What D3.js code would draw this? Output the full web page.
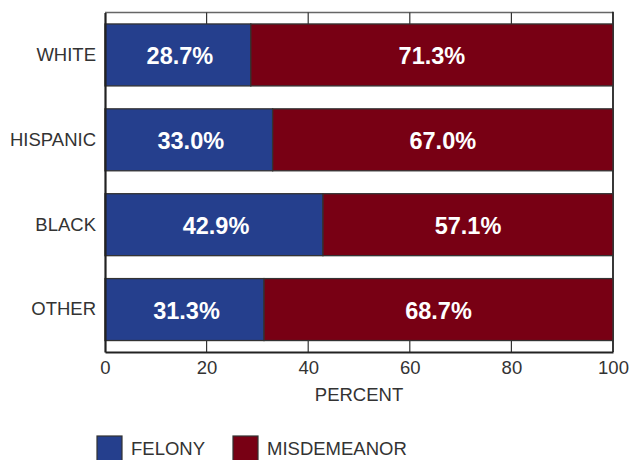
<!DOCTYPE html>
<html><head><meta charset="utf-8">
<script src="https://cdn.jsdelivr.net/npm/d3@7"></script>
<style>body{margin:0;background:#fff;}svg{display:block;font-family:Arial,"Liberation Sans",sans-serif;}</style>
</head><body>
<svg id="c" width="631" height="460"></svg>
<script>
const categories = ["WHITE","HISPANIC","BLACK","OTHER"];
const felony = [28.7, 33.0, 42.9, 31.3];
const misdemeanor = [71.3, 67.0, 57.1, 68.7];
const xTicks = [0,20,40,60,80,100];
const seriesNames = ["FELONY","MISDEMEANOR"];
const colors = ["#253f8d","#780014"];

(function(){
const svg = d3.select("#c");
const pL = 105, pR = 613, pT = 12.5, pB = 352;
const x = d3.scaleLinear().domain([0,100]).range([pL,pR]);
const y = d3.scaleBand().domain(categories).range([pT,pB]).paddingInner(0.27).paddingOuter(0.135);

// frame top/right
svg.append("line").attr("x1",pL).attr("x2",pR).attr("y1",pT).attr("y2",pT).attr("stroke","#666").attr("stroke-width",1.5);
svg.append("line").attr("x1",pR).attr("x2",pR).attr("y1",pT-0.7).attr("y2",pB).attr("stroke","#222").attr("stroke-width",1.8);

// inner ticks top & bottom
xTicks.slice(1,-1).forEach(t=>{
  svg.append("line").attr("x1",x(t)).attr("x2",x(t)).attr("y1",pT).attr("y2",pT+12).attr("stroke","#333").attr("stroke-width",1.2);
  svg.append("line").attr("x1",x(t)).attr("x2",x(t)).attr("y1",pB).attr("y2",pB-12).attr("stroke","#333").attr("stroke-width",1.2);
});

const data = categories.map((c,i)=>({cat:c, vals:[felony[i], misdemeanor[i]]}));
const stack = d3.stack().keys([0,1]).value((d,k)=>d.vals[k])(data);

stack.forEach((layer,k)=>{
  const g = svg.append("g");
  g.selectAll("rect").data(layer).join("rect")
    .attr("x",d=>x(d[0])).attr("width",d=>x(d[1])-x(d[0]))
    .attr("y",d=>y(d.data.cat)).attr("height",y.bandwidth())
    .attr("fill",colors[k]).attr("stroke","#333").attr("stroke-width",1.3);
  g.selectAll("text").data(layer).join("text")
    .attr("x",d=>(x(d[0])+x(d[1]))/2 + (k===0?2:0))
    .attr("y",d=>y(d.data.cat)+y.bandwidth()/2 + 1)
    .attr("dy","0.36em").attr("text-anchor","middle")
    .attr("fill","#fff").attr("font-weight","bold").attr("font-size","23.5px")
    .text(d=>d.data.vals[k].toFixed(1)+"%");
});

// axes
const xa = d3.axisBottom(x).tickValues(xTicks).tickSize(0).tickPadding(9).tickFormat(d3.format("d"));
const gx = svg.append("g").attr("transform",`translate(0,${pB})`).call(xa);
gx.select(".domain").attr("stroke","#222").attr("stroke-width",2.2);
gx.selectAll("text").attr("font-size","18.5px").attr("fill","#333").attr("font-family","Arial,'Liberation Sans',sans-serif");

const ya = d3.axisLeft(y).tickSize(0).tickPadding(9);
const gy = svg.append("g").attr("transform",`translate(${pL},0)`).call(ya);
gy.select(".domain").attr("stroke","#222").attr("stroke-width",2.2);
gy.selectAll("text").attr("font-size","18.5px").attr("fill","#333").attr("font-family","Arial,'Liberation Sans',sans-serif");

svg.append("text").attr("x",(pL+pR)/2).attr("y",401).attr("text-anchor","middle")
  .attr("font-size","18.5px").attr("fill","#333").text("PERCENT");

// legend
const legX = [97, 233];
seriesNames.forEach((n,i)=>{
  svg.append("rect").attr("x",legX[i]).attr("y",436).attr("width",25).attr("height",25)
    .attr("fill",colors[i]).attr("stroke","#333").attr("stroke-width",1.2);
  svg.append("text").attr("x",legX[i]+34).attr("y",455).attr("font-size","18.5px").attr("fill","#333").text(n);
});
})();
</script>
</body></html>
